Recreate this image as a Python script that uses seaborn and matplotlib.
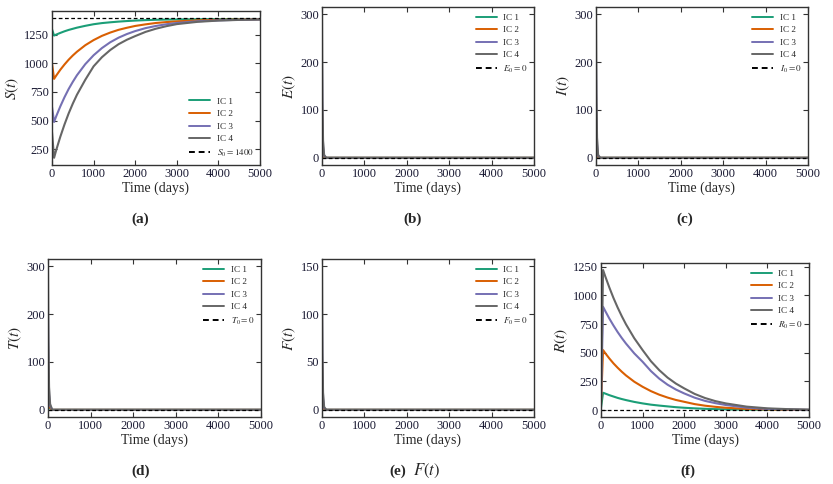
import numpy as np
import pandas as pd
import matplotlib
matplotlib.use("Agg")
import matplotlib.pyplot as plt
import seaborn as sns

# ---------------- data ----------------
ic_labels = ["IC 1", "IC 2", "IC 3", "IC 4"]
ic_colors = ["#1b9e77", "#d95f02", "#7570b3", "#666666"]

t_long = [0, 50, 100, 200, 300, 400, 500, 600, 800, 1000, 1200, 1400, 1600,
          1800, 2000, 2250, 2500, 2750, 3000, 3500, 4000, 4500, 5000]

S_ic1 = [1300, 1245, 1253, 1268, 1282, 1294, 1304, 1314, 1330, 1344, 1354, 1361,
         1367, 1372, 1376, 1380, 1383, 1385, 1386, 1388, 1389, 1390, 1390]
S_ic2 = [1000, 865, 893, 945, 991, 1033, 1070, 1103, 1160, 1205, 1242, 1271,
         1295, 1313, 1329, 1343, 1355, 1363, 1369, 1378, 1383, 1386, 1388]
S_ic3 = [620, 487, 536, 624, 704, 776, 839, 897, 994, 1072, 1135, 1186,
         1226, 1258, 1284, 1310, 1329, 1344, 1355, 1370, 1378, 1383, 1386]
S_ic4 = [400, 173, 239, 358, 465, 562, 648, 726, 857, 975, 1055, 1118,
         1169, 1208, 1240, 1277, 1305, 1327, 1345, 1365, 1376, 1382, 1385]

R_ic1 = [20, 151, 144, 130, 118, 106, 96, 87, 71, 58, 47, 39,
         32, 25, 20, 15, 11, 8, 6, 3, 2, 1, 0.5]
R_ic2 = [50, 523, 497, 450, 407, 369, 334, 302, 247, 203, 165, 134,
         109, 88, 72, 52, 38, 28, 20, 10, 5, 2, 1]
R_ic3 = [80, 900, 865, 798, 737, 680, 628, 580, 494, 421, 340, 274,
         221, 179, 145, 108, 80, 60, 44, 21, 10, 5, 2]
R_ic4 = [100, 1221, 1168, 1069, 977, 894, 818, 748, 626, 523, 426, 348,
         283, 231, 189, 141, 105, 78, 58, 30, 15, 8, 4]

t_short = [0, 10, 25, 50, 100, 5000]
E_ic1 = [50, 20, 6, 1, 0, 0]
E_ic2 = [100, 40, 12, 2, 0, 0]
E_ic3 = [200, 80, 24, 4, 0, 0]
E_ic4 = [300, 120, 36, 6, 0, 0]
I_ic1 = [50, 22, 7, 1, 0, 0]
I_ic2 = [100, 44, 14, 2, 0, 0]
I_ic3 = [200, 88, 28, 4, 0, 0]
I_ic4 = [300, 132, 42, 6, 0, 0]
T_ic1 = [50, 24, 8, 2, 0, 0]
T_ic2 = [100, 48, 16, 4, 0, 0]
T_ic3 = [200, 96, 32, 8, 0, 0]
T_ic4 = [300, 144, 48, 12, 0, 0]
F_ic1 = [25, 10, 3, 1, 0, 0]
F_ic2 = [50, 20, 6, 1, 0, 0]
F_ic3 = [100, 40, 12, 2, 0, 0]
F_ic4 = [150, 60, 18, 3, 0, 0]

x_ticks = [0, 1000, 2000, 3000, 4000, 5000]

panels = [
    # (time, series, ylabel, eq value, eq label, yticks, caption, legend loc)
    (t_long, [S_ic1, S_ic2, S_ic3, S_ic4], "$S(t)$", 1400, "$S_0 = 1400$",
     [250, 500, 750, 1000, 1250], "(a)", "lower right"),
    (t_short, [E_ic1, E_ic2, E_ic3, E_ic4], "$E(t)$", 0, "$E_0 = 0$",
     [0, 100, 200, 300], "(b)", "upper right"),
    (t_short, [I_ic1, I_ic2, I_ic3, I_ic4], "$I(t)$", 0, "$I_0 = 0$",
     [0, 100, 200, 300], "(c)", "upper right"),
    (t_short, [T_ic1, T_ic2, T_ic3, T_ic4], "$T(t)$", 0, "$T_0 = 0$",
     [0, 100, 200, 300], "(d)", "upper right"),
    (t_short, [F_ic1, F_ic2, F_ic3, F_ic4], "$F(t)$", 0, "$F_0 = 0$",
     [0, 50, 100, 150], "(e)", "upper right"),
    (t_long, [R_ic1, R_ic2, R_ic3, R_ic4], "$R(t)$", 0, "$R_0 = 0$",
     [0, 250, 500, 750, 1000, 1250], "(f)", "upper right"),
]

# ---------------- style ----------------
sns.set_theme(style="ticks")
plt.rcParams["font.family"] = ["Liberation Serif", "DejaVu Serif"]
plt.rcParams["mathtext.fontset"] = "stix"
plt.rcParams["xtick.direction"] = "in"
plt.rcParams["ytick.direction"] = "in"
plt.rcParams["xtick.top"] = True
plt.rcParams["ytick.right"] = True

W, H = 833, 484
fig = plt.figure(figsize=(W / 100, H / 100), dpi=100)

# axes boxes in pixels: left, top, right, bottom
boxes = [
    (52, 11, 260, 165),
    (322, 7, 534, 165),
    (596, 7, 808, 165),
    (48, 259, 261, 417),
    (322, 259, 534, 417),
    (601, 263, 809, 417),
]
cap_pos = [(140, 219), (413, 219), (685, 219), (141, 471), (398, 471), (688, 471)]

tick_color = "#1a1a33"

for i, (tt, series, ylab, eq, eqlab, yt, cap, loc) in enumerate(panels):
    l, t, r, b = boxes[i]
    ax = fig.add_axes([l / W, 1 - b / H, (r - l) / W, (b - t) / H])
    frames = []
    for lab, vals in zip(ic_labels, series):
        frames.append(pd.DataFrame({"t": tt, "value": vals, "IC": lab}))
    df = pd.concat(frames, ignore_index=True)
    sns.lineplot(data=df, x="t", y="value", hue="IC", hue_order=ic_labels,
                 palette=ic_colors, linewidth=1.5, estimator=None, sort=False,
                 ax=ax)
    ax.axhline(eq, color="black", linestyle="--", linewidth=0.9,
               dashes=(3, 2), label=eqlab)
    ax.set_xlim(0, 5000)
    ax.set_xticks(x_ticks)
    ax.set_yticks(yt)
    if i == 0:
        ax.set_ylim(110, 1460)
    ax.set_xlabel("Time (days)", fontsize=10, labelpad=1)
    ax.set_ylabel(ylab, fontsize=11, labelpad=2)
    ax.tick_params(axis="both", labelsize=9, length=3.5, width=0.8,
                   colors="#333333", labelcolor=tick_color, pad=2)
    for sp in ax.spines.values():
        sp.set_color("#333333")
        sp.set_linewidth(1.0)
    leg = ax.legend(loc=loc, frameon=False, fontsize=6.6, handlelength=2.3,
                    handletextpad=0.7, labelspacing=0.45, borderaxespad=0.3)
    for line in leg.get_lines():
        line.set_linewidth(1.4)
    cx, cy = cap_pos[i]
    if cap == "(e)":
        fig.text(cx / W, 1 - cy / H, cap, fontsize=11, fontweight="bold",
                 ha="center", va="center")
        fig.text(413 / W, 1 - cy / H, "$F(t)$", fontsize=12,
                 ha="left", va="center")
    else:
        fig.text(cx / W, 1 - cy / H, cap, fontsize=11, fontweight="bold",
                 ha="center", va="center")

fig.savefig("out.png", dpi=100)
